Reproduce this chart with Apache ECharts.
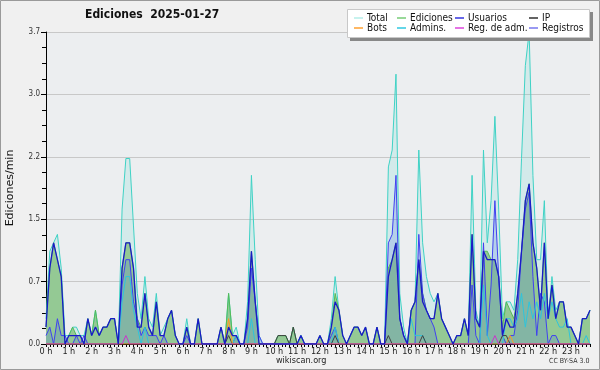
<!DOCTYPE html>
<html>
<head>
<meta charset="utf-8">
<script src="https://cdn.jsdelivr.net/npm/echarts@6/dist/echarts.min.js"></script>
<style>
  html, body { margin: 0; padding: 0; background: #f0f0f0; }
  #chart { width: 600px; height: 370px; }
</style>
</head>
<body>
<div id="chart"></div>
<script>
// 24 h, one point every 10 minutes (144 points), edits per minute
const hourLabels = ['0 h','1 h','2 h','3 h','4 h','5 h','6 h','7 h','8 h','9 h','10 h','11 h',
  '12 h','13 h','14 h','15 h','16 h','17 h','18 h','19 h','20 h','21 h','22 h','23 h'];

const total = [
  0.3,1.1,1.2,1.3,0.9,0.1,  0.1,0.2,0.2,0.1,0.1,0.3,  0.1,0.4,0.1,0.2,0.2,0.3,  0.3,0,1.6,2.2,2.2,1.4,
  0.6,0.3,0.8,0.3,0.2,0.6,  0.1,0.2,0.3,0.4,0.1,0,    0,0.3,0,0,0.3,0,        0,0,0,0,0.2,0,
  0.6,0.1,0.2,0,0,0.5,      2.0,1.0,0.1,0,0,0,        0,0.1,0.1,0.1,0,0.2,    0,0.1,0,0,0,0,
  0.1,0,0,0.3,0.8,0.4,      0.1,0,0.1,0.2,0.2,0.1,    0.2,0,0,0.2,0,0,        2.1,2.3,3.2,0.6,0.2,0,
  0.4,0.5,2.3,1.2,0.8,0.6,  0.5,0.6,0.3,0.2,0.1,0,    0.1,0.1,0.3,0.1,2.0,0.4, 0.2,2.3,1.2,1.7,2.7,1.6,
  0.3,0.5,0.5,0.4,1.0,2.2,  3.3,3.7,2.0,1.0,1.0,1.7,  0.3,0.8,0.4,0.5,0.5,0.2, 0.2,0.1,0,0.3,0.3,0.4
];
const ediciones = [
  0.2,0.9,1.2,1.0,0.8,0,    0.1,0.2,0.1,0.1,0,0.3,    0.1,0.4,0.1,0.2,0.2,0.3, 0.3,0,0.9,1.2,1.2,0.9,
  0.3,0.2,0.6,0.2,0.1,0.5,  0.1,0.1,0.3,0.4,0.1,0,    0,0.2,0,0,0.3,0,        0,0,0,0,0.2,0,
  0.6,0.1,0.1,0,0,0.3,      1.1,0.5,0,0,0,0,          0,0.1,0.1,0.1,0,0.2,    0,0.1,0,0,0,0,
  0.1,0,0,0.2,0.6,0.4,      0.1,0,0.1,0.2,0.2,0.1,    0.2,0,0,0.2,0,0,        0.9,1.0,1.2,0.3,0.1,0,
  0.4,0.5,1.0,0.6,0.4,0.3,  0.3,0.6,0.3,0.2,0.1,0,    0.1,0.1,0.3,0.1,1.3,0.3, 0.2,1.1,1.1,1.0,1.0,0.8,
  0.2,0.5,0.4,0.3,0.6,1.1,  1.7,1.9,1.2,0.9,0.4,1.2,  0.3,0.7,0.3,0.5,0.5,0.2, 0.2,0.1,0,0.3,0.3,0.4
];
const usuarios = [
  0.2,0.9,1.2,1.0,0.8,0,    0.1,0.1,0.1,0.1,0,0.3,    0.1,0.2,0.1,0.2,0.2,0.3, 0.3,0,0.9,1.2,1.2,0.9,
  0.2,0.2,0.6,0.2,0.1,0.5,  0.1,0.1,0.3,0.4,0.1,0,    0,0.2,0,0,0.3,0,        0,0,0,0,0.2,0,
  0.2,0.1,0.1,0,0,0.3,      1.1,0.5,0,0,0,0,          0,0,0,0,0,0,            0,0.1,0,0,0,0,
  0.1,0,0,0.2,0.5,0.4,      0.1,0,0.1,0.2,0.2,0.1,    0.2,0,0,0.2,0,0,        0.8,1.0,1.2,0.3,0.1,0,
  0.4,0.5,1.0,0.5,0.4,0.3,  0.3,0.6,0.3,0.2,0.1,0,    0.1,0.1,0.3,0.1,1.3,0.3, 0.2,1.1,1.0,1.0,1.0,0.8,
  0.1,0.3,0.2,0.2,0.6,1.1,  1.7,1.9,1.2,0.9,0.4,1.2,  0.3,0.7,0.3,0.5,0.5,0.2, 0.2,0.1,0,0.3,0.3,0.4
];
const ip = [
  0,0,0,0,0,0,  0,0,0,0,0,0,  0,0,0,0,0,0,  0,0,0,0,0,0,
  0,0,0,0,0,0,  0,0,0,0,0,0,  0,0,0,0,0,0,  0,0,0,0,0,0,
  0.1,0,0,0,0,0,  0,0,0,0,0,0,  0,0.1,0.1,0.1,0,0.2,  0,0,0,0,0,0,
  0,0,0,0,0.1,0,  0,0,0,0,0,0,  0,0,0,0,0,0,  0.1,0,0,0,0,0,
  0,0,0,0.1,0,0,  0,0,0,0,0,0,  0,0,0,0,0,0,  0,0,0,0,0,0,
  0.1,0.1,0,0,0,0,  0,0,0,0,0,0,  0,0,0,0,0,0,  0,0,0,0,0,0
];
const bots = [
  0,0,0,0,0,0,  0,0,0,0,0,0,  0,0,0,0,0,0,  0,0,0,0,0,0,
  0,0,0,0,0,0,  0,0,0,0,0,0,  0,0,0,0,0,0,  0,0,0,0,0,0,
  0.3,0,0,0,0,0,  0,0,0,0,0,0,  0,0,0,0,0,0,  0,0,0,0,0,0,
  0,0,0,0,0,0,  0,0,0,0,0,0,  0,0,0,0,0,0,  0,0,0,0,0,0,
  0,0,0,0,0,0,  0,0,0,0,0,0,  0,0,0,0,0,0,  0,0,0,0,0,0,
  0,0,0.1,0,0,0,  0,0,0,0,0,0,  0,0,0,0,0,0,  0,0,0,0,0,0
];
const admins = [
  0,0,0,0,0,0,  0,0,0,0,0,0,  0,0,0,0,0,0,  0,0,0.5,0.8,0.8,0.4,
  0.2,0,0.2,0,0,0,  0,0,0,0,0,0,  0,0,0,0,0,0,  0,0,0,0,0,0,
  0,0,0.1,0,0,0,  0.3,0,0,0,0,0,  0,0,0,0,0,0,  0,0.1,0,0,0,0,
  0,0,0,0,0.2,0,  0,0,0,0,0,0,  0,0,0,0,0,0,  0,0,0,0,0,0,
  0.3,0.1,0.1,0.1,0,0,  0,0,0,0,0,0,  0,0,0,0,0,0,  0,0.7,0.1,0,0,0,
  0,0.3,0.3,0.2,0.3,0.6,  0.2,0.5,0.3,0.5,0.3,0.6,  0.3,0.5,0.3,0.2,0.2,0.3,  0,0,0,0,0.1,0
];
const regAdm = [
  0,0,0,0,0,0,  0,0,0,0,0,0,  0,0,0,0,0,0,  0,0,0,0.1,0,0,
  0,0,0,0,0,0,  0,0,0,0,0,0,  0,0,0,0,0,0,  0,0,0,0,0,0,
  0,0,0,0,0,0,  0,0,0,0,0,0,  0,0,0,0,0,0,  0,0,0,0,0,0,
  0,0,0,0,0,0,  0,0,0,0,0,0,  0,0,0,0,0,0,  0,0,0,0,0,0,
  0,0,0,0,0,0,  0,0,0,0,0,0,  0,0,0,0,0,0,  0,0,0,0,0.1,0,
  0,0,0,0,0,0,  0,0,0,0,0,0,  0,0,0,0,0,0,  0,0,0,0,0,0
];
const registros = [
  0.1,0.2,0,0.3,0.1,0.1,  0,0,0.1,0,0.1,0,  0,0,0,0,0,0,  0,0,0.7,1.0,1.0,0.5,
  0.3,0.1,0.2,0.1,0.1,0.1,  0,0.1,0,0,0,0,  0,0.1,0,0,0,0,  0,0,0,0,0,0,
  0,0,0.1,0,0,0.2,  0.9,0.5,0.1,0,0,0,  0,0,0,0,0,0,  0,0,0,0,0,0,
  0,0,0,0.1,0.2,0,  0,0,0,0,0,0,  0,0,0,0,0,0,  1.2,1.3,2.0,0.3,0.1,0,
  0,0,1.3,0.6,0.4,0.3,  0.2,0,0,0,0,0,  0,0,0,0,0.7,0.1,  0,1.2,0.1,0.7,1.7,0.8,
  0.1,0,0.1,0.1,0.4,1.1,  1.6,1.8,0.8,0.1,0.6,0.5,  0,0.1,0.1,0,0,0,  0,0,0,0,0,0
];

const legendNames = ['Total','Ediciones','Usuarios','IP','Bots','Admins.','Reg. de adm.','Registros'];
const legendColors = ['#b4eee8','#77cc77','#3535e0','#303030','#ffa030','#30c8e0','#dd44dd','#7777ee'];
const legendPos = [[354,13],[397,13],[455,13],[529,13],[354,23],[397,23],[455,23],[529,23]];

const categories = [];
for (let h = 0; h < 24; h++) {
  for (let m = 0; m < 60; m += 10) categories.push(h + ':' + (m < 10 ? '0' : '') + m);
}

const font = "'DejaVu Sans Condensed', 'DejaVu Sans', sans-serif";

const chart = echarts.init(document.getElementById('chart'));

const legends = legendNames.map((name, i) => ({
  data: [{ name: name, itemStyle: { color: legendColors[i] } }],
  left: legendPos[i][0],
  top: legendPos[i][1],
  padding: 0,
  icon: 'rect',
  itemWidth: 9,
  itemHeight: 1.5,
  selectedMode: false,
  z: 20,
  textStyle: { fontFamily: font, fontSize: 10, color: '#111', padding: [0, 0, 0, -1] }
}));

const line = (name, data, color, width, extra) => Object.assign({
  name: name,
  type: 'line',
  data: data,
  showSymbol: false,
  symbol: 'none',
  silent: true,
  itemStyle: { color: color },
  lineStyle: { color: color, width: width }
}, extra || {});

const option = {
  animation: false,
  backgroundColor: '#f0f0f0',
  title: {
    text: 'Ediciones  2025-01-27',
    left: 85,
    top: 9,
    padding: 0,
    textStyle: { fontFamily: font, fontWeight: 'bold', fontSize: 12, color: '#111' }
  },
  legend: legends,
  grid: {
    left: 46, right: 10, top: 32, bottom: 26,
    containLabel: false,
    outerBoundsMode: 'none',
    show: true, backgroundColor: '#eceef0', borderWidth: 0
  },
  xAxis: {
    type: 'category',
    data: categories,
    boundaryGap: false,
    axisLine: { lineStyle: { color: '#000', width: 1 } },
    axisTick: { show: true, interval: 0, length: 3, lineStyle: { color: '#000' } },
    axisLabel: {
      interval: (idx) => idx % 6 === 0,
      formatter: (v, idx) => hourLabels[Math.floor(idx / 6)],
      fontFamily: font, fontSize: 9, color: '#222', margin: 3
    },
    splitLine: { show: false }
  },
  yAxis: {
    type: 'value',
    min: 0,
    max: 3.7,
    interval: 0.74,
    name: 'Ediciones/min',
    nameLocation: 'middle',
    nameGap: 30,
    nameTextStyle: { fontFamily: "'DejaVu Sans', sans-serif", fontSize: 11, color: '#111' },
    axisLine: { show: true, lineStyle: { color: '#000', width: 1 } },
    axisTick: { show: true, length: 5, lineStyle: { color: '#000' } },
    minorTick: { show: true, splitNumber: 4, length: 4, lineStyle: { color: '#000' } },
    axisLabel: {
      formatter: (v) => v.toFixed(1),
      fontFamily: font, fontSize: 8, color: '#333', margin: 6
    },
    splitLine: { lineStyle: { color: '#c8c8c8', width: 1 } }
  },
  series: [
    line('Total', total, '#3fd2c5', 1, { areaStyle: { color: 'rgba(64,212,196,0.2)' } }),
    line('Ediciones', ediciones, '#55bb55', 1, { areaStyle: { color: '#94c994', opacity: 1 } }),
    line('Registros', registros, '#4040f0', 1, { areaStyle: { color: 'rgba(60,100,230,0.28)' } }),
    line('Admins.', admins, '#2ec4dc', 1),
    line('IP', ip, '#404040', 1),
    line('Bots', bots, '#ff9922', 1),
    line('Reg. de adm.', regAdm, '#cc33cc', 1),
    line('Usuarios', usuarios, '#1a1ac8', 1.3)
  ],
  graphic: [
    { type: 'rect', z: 0, silent: true, shape: { x: 0.5, y: 0.5, width: 599, height: 369 },
      style: { fill: null, stroke: '#9a9a9a', lineWidth: 1 } },
    { type: 'rect', z: 18, silent: true, shape: { x: 350, y: 12, width: 243, height: 29 },
      style: { fill: '#888888' } },
    { type: 'rect', z: 19, silent: true, shape: { x: 347.5, y: 9.5, width: 242, height: 28 },
      style: { fill: '#ffffff', stroke: '#c8c8c8', lineWidth: 1 } },
    { type: 'text', z: 5, silent: true, left: 276, top: 356,
      style: { text: 'wikiscan.org', font: "9px 'DejaVu Sans Condensed', 'DejaVu Sans'", fill: '#222' } },
    { type: 'text', z: 5, silent: true, left: 549, top: 358,
      style: { text: 'CC BY-SA 3.0', font: "7px 'DejaVu Sans Condensed', 'DejaVu Sans'", fill: '#333' } }
  ]
};

chart.setOption(option);
</script>
</body>
</html>
